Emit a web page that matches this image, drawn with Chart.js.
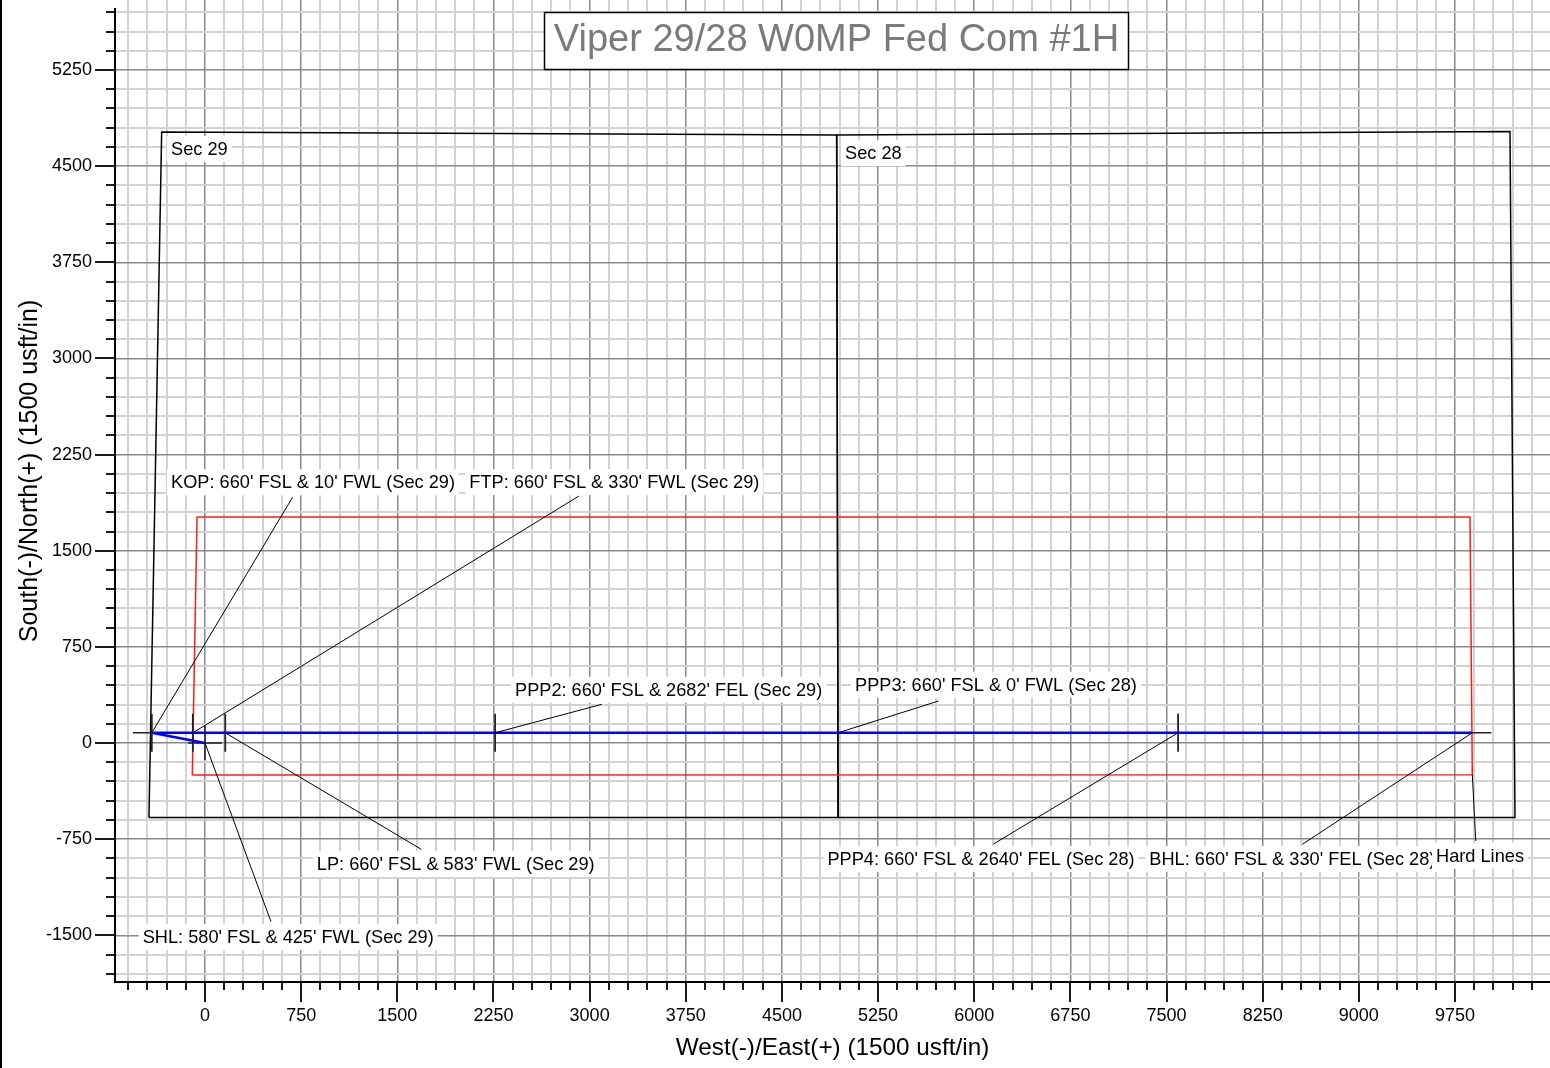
<!DOCTYPE html>
<html>
<head>
<meta charset="utf-8">
<script src="https://cdn.jsdelivr.net/npm/chart.js@4/dist/chart.umd.min.js"></script>
<style>
  html, body { margin: 0; padding: 0; background: #fff; overflow: hidden; }
  #wrap { width: 1550px; height: 1068px; position: relative; }
</style>
</head>
<body>
<div id="wrap"><canvas id="planView"></canvas></div>
<script>
// section lines, usft from SHL (East +, North +)
var sec29_x = [-437, -338, 4927, 4938, -437]
var sec29_y = [-580, 4766, 4743, -580, -580]
var sec28_x = [4938, 4927, 10179, 10218, 4938]
var sec28_y = [-580, 4743, 4770, -580, -580]
var hard_x = [-99, -62, 9867, 9885, -99]
var hard_y = [-250, 1763, 1763, -247, -250]

// well path stations (in drilling order)
var station_names = ['SHL', 'KOP', 'FTP', 'LP', 'PPP2', 'PPP3', 'PPP4', 'BHL']
var station_ew = [0, -415, -95, 158, 2263, 4938, 7590, 9885]
var station_ns = [0, 80, 80, 80, 80, 80, 80, 80]
var tick_stations = ['KOP', 'FTP', 'LP', 'PPP2', 'PPP4']

var x_min = -702, x_max = 10491
var y_min = -1864, y_max = 5796
var minor_step = 150, major_step = 750

var title_text = 'Viper 29/28 W0MP Fed Com #1H'
var x_title = 'West(-)/East(+) (1500 usft/in)'
var y_title = 'South(-)/North(+) (1500 usft/in)'

var FONT = '"Liberation Sans", Arial, sans-serif'

var station = function(name){
  var i = station_names.indexOf(name)
  return {x: station_ew[i], y: station_ns[i]}
}

var pathPoints = station_names.map(function(n){ return station(n) })
var tickPoints = tick_stations.map(function(n){ return station(n) })
var poly = function(xs, ys){
  return xs.map(function(x, i){ return {x: x, y: ys[i]} })
}

// callouts: text box anchored at left/middle, leader from -> to
var callouts = [
  { text: 'Sec 29', at: [-265, 4626] },
  { text: 'Sec 28', at: [4992, 4594] },
  { text: "KOP: 660' FSL & 10' FWL (Sec 29)", at: [-265, 2026], from: [683, 1917], to: station('KOP') },
  { text: "FTP: 660' FSL & 330' FWL (Sec 29)", at: [2062, 2028], from: [2917, 1927], to: station('FTP') },
  { text: "PPP2: 660' FSL & 2682' FEL (Sec 29)", at: [2418, 408], from: [3095, 302], to: station('PPP2') },
  { text: "PPP3: 660' FSL & 0' FWL (Sec 28)", at: [5070, 447], from: [5722, 328], to: station('PPP3') },
  { text: "LP: 660' FSL & 583' FWL (Sec 29)", at: [872, -952], from: [1687, -829], to: station('LP') },
  { text: "SHL: 580' FSL & 425' FWL (Sec 29)", at: [-486, -1521], from: [515, -1394], to: station('SHL') },
  { text: "PPP4: 660' FSL & 2640' FEL (Sec 28)", at: [4855, -913], from: [6150, -788], to: station('PPP4') },
  { text: "BHL: 660' FSL & 330' FEL (Sec 28)", at: [7366, -913], from: [8559, -790], to: station('BHL') },
  { text: 'Hard Lines', at: [9602, -887], from: [9912, -764], to: {x: hard_x[3], y: hard_y[3]} }
]

var isMajor = function(v){ return Math.abs(v % major_step) < 1e-6 }

// every 150 usft, regardless of the odd axis bounds
var gridTicks = function(scale){
  var t = []
  for (var v = Math.ceil(scale.min / minor_step) * minor_step; v <= scale.max; v += minor_step) {
    t.push({value: v})
  }
  scale.ticks = t
}

var overlay = {
  id: 'overlay',
  afterDatasetsDraw: function(chart){
    var ctx = chart.ctx, xs = chart.scales.x, ys = chart.scales.y
    ctx.save()
    // stubs at KOP (west) and BHL (east)
    ctx.strokeStyle = '#222'
    ctx.lineWidth = 1.5
    var kop = station('KOP'), bhl = station('BHL')
    ctx.beginPath()
    ctx.moveTo(xs.getPixelForValue(kop.x) - 19, ys.getPixelForValue(kop.y))
    ctx.lineTo(xs.getPixelForValue(kop.x), ys.getPixelForValue(kop.y))
    ctx.moveTo(xs.getPixelForValue(bhl.x), ys.getPixelForValue(bhl.y))
    ctx.lineTo(xs.getPixelForValue(bhl.x) + 19, ys.getPixelForValue(bhl.y))
    ctx.stroke()

    // leaders
    ctx.strokeStyle = '#000'
    ctx.lineWidth = 1
    callouts.forEach(function(c){
      if (!c.from) return
      ctx.beginPath()
      ctx.moveTo(xs.getPixelForValue(c.from[0]), ys.getPixelForValue(c.from[1]))
      ctx.lineTo(xs.getPixelForValue(c.to.x), ys.getPixelForValue(c.to.y))
      ctx.stroke()
    })
    // label boxes
    ctx.font = '18.2px ' + FONT
    ctx.textBaseline = 'middle'
    ctx.textAlign = 'left'
    callouts.forEach(function(c){
      var px = xs.getPixelForValue(c.at[0]), py = ys.getPixelForValue(c.at[1])
      var w = ctx.measureText(c.text).width
      ctx.fillStyle = '#fff'
      ctx.fillRect(px - 4, py - 14, w + 8, 26)
      ctx.fillStyle = '#000'
      ctx.fillText(c.text, px, py)
    })
    ctx.restore()
  },
  afterDraw: function(chart){
    var ctx = chart.ctx, xs = chart.scales.x, ys = chart.scales.y, area = chart.chartArea
    ctx.save()
    // page frame at left
    ctx.fillStyle = '#000'
    ctx.fillRect(0, 0, 2, chart.height)

    // axis lines
    ctx.strokeStyle = '#000'
    ctx.lineWidth = 2
    ctx.beginPath()
    ctx.moveTo(area.left, 8)
    ctx.lineTo(area.left, area.bottom)
    ctx.lineTo(area.right, area.bottom)
    ctx.stroke()

    // tick marks
    ctx.strokeStyle = '#1a1a1a'
    ctx.lineWidth = 2
    ctx.beginPath()
    xs.ticks.forEach(function(t){
      var p = Math.round(xs.getPixelForValue(t.value))
      ctx.moveTo(p, area.bottom)
      ctx.lineTo(p, area.bottom + (isMajor(t.value) ? 20 : 8))
    })
    ys.ticks.forEach(function(t){
      var p = Math.round(ys.getPixelForValue(t.value))
      if (p < 10) return
      ctx.moveTo(area.left, p)
      ctx.lineTo(area.left - (isMajor(t.value) ? 20 : 9), p)
    })
    ctx.stroke()

    // axis titles
    ctx.fillStyle = '#000'
    ctx.textAlign = 'center'
    ctx.textBaseline = 'middle'
    ctx.font = '24.3px ' + FONT
    ctx.fillText(x_title, (area.left + area.right) / 2, 1048)
    ctx.save()
    ctx.translate(30, 471)
    ctx.rotate(-Math.PI / 2)
    ctx.font = '25px ' + FONT
    ctx.fillText(y_title, 0, 0)
    ctx.restore()

    // title box
    ctx.fillStyle = '#fff'
    ctx.fillRect(544, 12, 585, 58)
    ctx.strokeStyle = '#000'
    ctx.lineWidth = 1.5
    ctx.strokeRect(544.5, 12.5, 584, 57)
    ctx.fillStyle = '#7a7a7a'
    ctx.font = '38px ' + FONT
    ctx.fillText(title_text, 836.5, 41)
    ctx.restore()
  }
}

var ctx = document.getElementById('planView')

var planView = new Chart(ctx, {
  type: 'scatter',
  data: {
    datasets: [
      {
        data: pathPoints,
        showLine: true,
        borderColor: '#0000ff',
        borderWidth: 2.5,
        pointRadius: 0,
        tension: 0
      },
      {
        data: tickPoints,
        pointStyle: 'line',
        rotation: 90,
        pointRadius: 19,
        borderColor: '#222',
        pointBorderColor: '#222',
        borderWidth: 1.8
      },
      {
        data: [station('SHL')],
        pointStyle: 'cross',
        pointRadius: 17,
        borderColor: '#222',
        pointBorderColor: '#222',
        borderWidth: 1.5
      },
      {
        data: poly(hard_x, hard_y),
        showLine: true,
        borderColor: '#ff1a1a',
        borderWidth: 1.5,
        pointRadius: 0
      },
      {
        data: poly(sec29_x, sec29_y),
        showLine: true,
        borderColor: '#000',
        borderWidth: 1.5,
        pointRadius: 0
      },
      {
        data: poly(sec28_x, sec28_y),
        showLine: true,
        borderColor: '#000',
        borderWidth: 1.5,
        pointRadius: 0
      }
    ]
  },
  options: {
    responsive: true,
    maintainAspectRatio: false,
    animation: false,
    events: [],
    layout: { padding: 0, autoPadding: false },
    plugins: {
      legend: { display: false },
      tooltip: { enabled: false }
    },
    scales: {
      x: {
        type: 'linear',
        min: x_min,
        max: x_max,
        afterBuildTicks: gridTicks,
        afterFit: function(scale){
          scale.height = 86
          scale.paddingLeft = 0
          scale.paddingRight = 0
        },
        border: { display: false },
        grid: {
          drawTicks: false,
          color: function(c){ return c.tick && isMajor(c.tick.value) ? '#8a8a8a' : '#d2d2d2' },
          lineWidth: function(c){ return c.tick && isMajor(c.tick.value) ? 1.5 : 2 }
        },
        ticks: {
          autoSkip: false,
          maxRotation: 0,
          padding: 23,
          color: '#000',
          font: { family: FONT, size: 18 },
          callback: function(v){ return isMajor(v) ? String(v) : '' }
        }
      },
      y: {
        type: 'linear',
        min: y_min,
        max: y_max,
        afterBuildTicks: gridTicks,
        afterFit: function(scale){
          scale.width = 115
          scale.paddingTop = 0
          scale.paddingBottom = 0
        },
        border: { display: false },
        grid: {
          drawTicks: false,
          color: function(c){ return c.tick && isMajor(c.tick.value) ? '#8a8a8a' : '#d2d2d2' },
          lineWidth: function(c){ return c.tick && isMajor(c.tick.value) ? 1.5 : 2 }
        },
        ticks: {
          autoSkip: false,
          padding: 23,
          color: '#000',
          font: { family: FONT, size: 18 },
          callback: function(v){ return isMajor(v) ? String(v) : '' }
        }
      }
    }
  },
  plugins: [overlay]
});
</script>
</body>
</html>
